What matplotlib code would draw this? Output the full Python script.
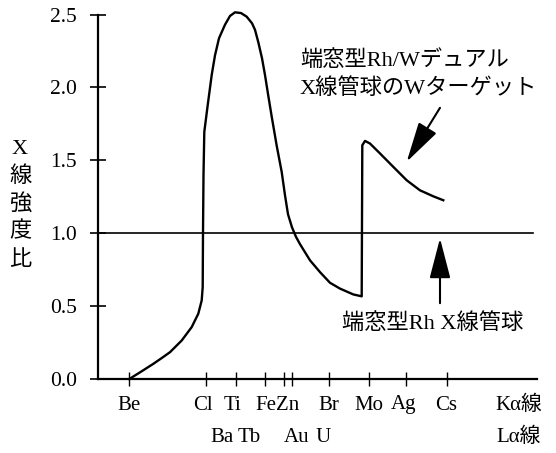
import matplotlib
matplotlib.use('Agg')
import matplotlib.pyplot as plt
from matplotlib.transforms import blended_transform_factory

plt.rcParams['font.family'] = ['Liberation Serif', 'Noto Sans CJK JP']

# ---- data (x: position along the element/energy axis, drawing units) ----
x_range = (98, 537)
y_range = (0.0, 2.5)
y_ticks = [0.0, 0.5, 1.0, 1.5, 2.0, 2.5]
y_tick_labels = ['0.0', '0.5', '1.0', '1.5', '2.0', '2.5']
x_tick_positions = [129, 206, 236, 265, 284, 292, 329, 369, 406, 446.5]

k_labels = ['Be', 'Cl', 'Ti', 'Fe', 'Zn', 'Br', 'Mo', 'Ag', 'Cs', 'Kα線']
k_label_pos = [128.5, 203, 232, 266, 288, 329, 369, 404, 446, 519]
l_labels = ['Ba', 'Tb', 'Au', 'U', 'Lα線']
l_label_pos = [222, 249, 297, 323, 519]

reference_ratio = 1.0  # 端窓型Rh X線管球

curve_x = [129.3, 141, 153.3, 162, 170, 181.7, 191.7, 198.3, 201.7, 202.7,
           203.0, 203.5, 204.3, 207.7, 211.7, 215, 219, 225, 230, 235,
           241, 246.7, 252, 255, 258.3, 262, 265, 268, 271.7, 276.7,
           281.7, 285, 288, 292, 296, 300, 310, 320, 330, 340,
           353.3, 361.7, 362.3, 365, 370, 380, 393.3, 406.7, 420, 433.3, 443.3]
curve_y = [0.0, 0.05, 0.104, 0.145, 0.184, 0.264, 0.356, 0.448, 0.539, 0.63,
           1.0, 1.4, 1.695, 1.878, 2.085, 2.22, 2.337, 2.43, 2.49, 2.515,
           2.51, 2.485, 2.44, 2.395, 2.31, 2.2, 2.085, 1.955, 1.8, 1.6,
           1.42, 1.26, 1.13, 1.04, 0.975, 0.925, 0.814, 0.733, 0.66, 0.62,
           0.58, 0.567, 1.603, 1.633, 1.615, 1.547, 1.455, 1.363, 1.294, 1.253, 1.226]

arrow_w_tail = (440, 1.86)
arrow_w_tip = (406.7, 1.49)
arrow_rh_tail = (440, 0.52)
arrow_rh_tip = (440, 0.965)

# ---- figure ----
W, H = 556, 453
fig = plt.figure(figsize=(W / 100, H / 100), dpi=100)
ax = fig.add_axes([98 / W, 1 - 379 / H, (537 - 98) / W, (379 - 14.5) / H])
ax.set_xlim(*x_range)
ax.set_ylim(*y_range)

for s in ['top', 'right']:
    ax.spines[s].set_visible(False)
for s in ['left', 'bottom']:
    ax.spines[s].set_linewidth(1.6)

ax.set_yticks(y_ticks)
ax.set_yticklabels(y_tick_labels, fontsize=15.5)
ax.tick_params(axis='y', direction='inout', length=11, width=1.2, pad=9.5)
ax.set_xticks(x_tick_positions)
ax.set_xticklabels([''] * len(x_tick_positions))
ax.tick_params(axis='x', direction='inout', length=9.5, width=1.0)

ax.plot(curve_x, curve_y, color='black', lw=1.7, solid_joinstyle='round', clip_on=False)
ax.axhline(reference_ratio, xmin=0, xmax=0.99, color='black', lw=1.2)

arrow_style = '-|>,head_length=25,head_width=6.5'
for tail, tip in [(arrow_w_tail, arrow_w_tip), (arrow_rh_tail, arrow_rh_tip)]:
    ax.annotate('', xy=tip, xytext=tail,
                arrowprops=dict(arrowstyle=arrow_style, mutation_scale=1,
                                color='black', facecolor='#262626', lw=1.5,
                                shrinkA=0, shrinkB=0))

# annotations
ax.text(300, 2.187, '端窓型Rh/Wデュアル', fontsize=16, ha='left', va='center')
ax.text(300, 1.995, 'X線管球のWターゲット', fontsize=16, ha='left', va='center')
ax.text(342, 0.381, '端窓型Rh X線管球', fontsize=16, ha='left', va='center')

# x labels (two rows)
tr = blended_transform_factory(ax.transData, fig.transFigure)
for lab, xp in zip(k_labels, k_label_pos):
    ax.text(xp, 1 - 405 / H, lab, transform=tr, fontsize=15, ha='center', va='center')
for lab, xp in zip(l_labels, l_label_pos):
    ax.text(xp, 1 - 437 / H, lab, transform=tr, fontsize=15, ha='center', va='center')

# vertical y label
for i, ch in enumerate('X線強度比'):
    fig.text(20 / W, 1 - (149 + 27.7 * i) / H, ch, fontsize=16, ha='center', va='center')

fig.savefig('out.png', dpi=100)
